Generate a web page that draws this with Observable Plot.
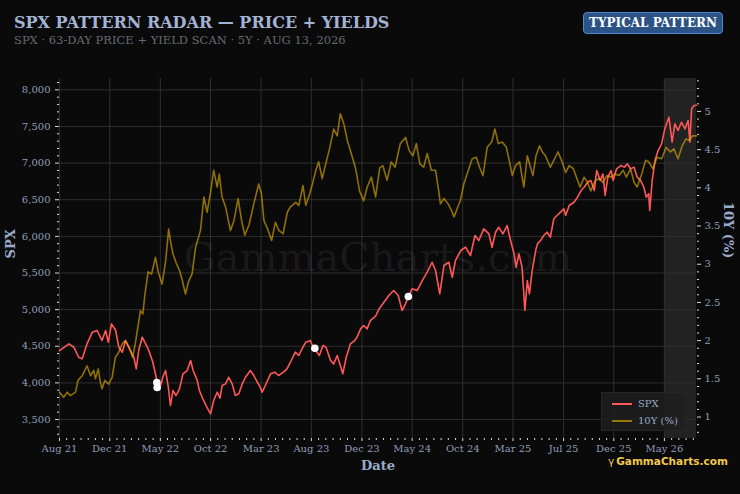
<!DOCTYPE html>
<html><head><meta charset="utf-8">
<script src="https://cdn.jsdelivr.net/npm/d3@7"></script>
<script src="https://cdn.jsdelivr.net/npm/@observablehq/plot@0.6"></script>
<style>
html,body{margin:0;padding:0;background:#0a0a0a;}
#wrap{position:relative;width:740px;height:494px;font-family:"DejaVu Serif",serif;overflow:hidden;}
#title{position:absolute;left:14px;top:13px;font-size:16px;font-weight:bold;color:#a3b3d4;white-space:nowrap;}
#subtitle{position:absolute;left:14px;top:33px;font-size:11.5px;color:#656b74;white-space:nowrap;}
#badge{position:absolute;left:583px;top:12px;width:140px;height:22px;box-sizing:border-box;background:#2b5385;border:1.5px solid #4d88d2;border-radius:4px;color:#fff;font-weight:bold;font-size:12px;display:flex;align-items:center;justify-content:center;white-space:nowrap;}
#chart{position:absolute;left:0;top:60px;}
#legend{position:absolute;left:601px;top:392px;width:85px;height:39px;box-sizing:border-box;background:rgba(30,30,30,0.85);border:1px solid #262626;font-size:10px;color:#9aa8c4;}
#legend .item{position:absolute;left:10px;display:flex;align-items:center;white-space:nowrap;}
#legend .sw{display:inline-block;width:20px;height:2px;margin-right:6px;}
#logo{position:absolute;left:608px;top:455px;font-family:"DejaVu Sans",sans-serif;font-weight:bold;font-size:10.5px;line-height:12px;color:#f2c94c;text-shadow:0 0 2px #000;white-space:nowrap;}
#logo .g{margin-right:2px;font-weight:normal;}
</style></head>
<body>
<div id="wrap">
  <div id="title"></div>
  <div id="subtitle"></div>
  <div id="badge"></div>
  <div id="chart"></div>
  <div id="legend"></div>
  <div id="logo"><span class="g">γ</span><span id="logotext"></span></div>
</div>
<script>
const titleText = "SPX PATTERN RADAR — PRICE + YIELDS";
const subtitleText = "SPX · 63-DAY PRICE + YIELD SCAN · 5Y · AUG 13, 2026";
const badgeText = "TYPICAL PATTERN";
const watermarkText = "GammaCharts.com";
const seriesNames = ["SPX", "10Y (%)"];

const spxTicks = [3500, 4000, 4500, 5000, 5500, 6000, 6500, 7000, 7500, 8000];
const yieldTicks = [1, 1.5, 2, 2.5, 3, 3.5, 4, 4.5, 5];
const xTickDates = ["2021-08-13","2022-01-04","2022-05-29","2022-10-20","2023-03-14","2023-08-05","2023-12-28","2024-05-20","2024-10-12","2025-03-05","2025-07-28","2025-12-19","2026-05-13"];
const xTickLabels = ["Aug 21","Dec 21","May 22","Oct 22","Mar 23","Aug 23","Dec 23","May 24","Oct 24","Mar 25","Jul 25","Dec 25","May 26"];

const xDomain = ["2021-08-13", "2026-08-13"];
const spxDomain = [3241, 8155];
const yieldDomain = [0.719, 5.431];
const scanWindow = ["2026-05-13", "2026-08-13"];

const spxSeries = [
["2021-08-13",4440],["2021-09-09",4533],["2021-09-23",4487],["2021-10-07",4350],["2021-10-17",4328],["2021-10-31",4533],
["2021-11-15",4692],["2021-11-29",4715],["2021-12-13",4578],["2021-12-23",4715],["2021-12-31",4555],["2022-01-09",4806],
["2022-01-21",4715],["2022-01-30",4487],["2022-02-09",4419],["2022-02-18",4578],["2022-02-28",4487],["2022-03-14",4350],
["2022-03-21",4192],["2022-03-28",4442],["2022-04-07",4624],["2022-04-17",4533],["2022-04-26",4442],["2022-05-06",4305],
["2022-05-13",4169],["2022-05-20",4009],["2022-05-30",3964],["2022-06-05",4077],["2022-06-13",4169],["2022-06-21",3941],
["2022-06-27",3691],["2022-07-04",3896],["2022-07-13",3828],["2022-07-23",3919],["2022-08-02",4124],["2022-08-14",4169],
["2022-08-24",4305],["2022-08-31",4169],["2022-09-12",4032],["2022-09-18",3896],["2022-09-28",3782],["2022-10-07",3691],
["2022-10-20",3578],["2022-10-29",3759],["2022-11-08",3873],["2022-11-16",3790],["2022-11-22",3964],["2022-12-02",3987],
["2022-12-11",4077],["2022-12-21",3987],["2022-12-30",3828],["2023-01-09",3851],["2023-01-19",3987],["2023-01-28",4077],
["2023-02-11",4169],["2023-02-21",4101],["2023-03-03",4009],["2023-03-09",3964],["2023-03-17",3873],["2023-03-26",3964],
["2023-04-10",4124],["2023-04-22",4146],["2023-05-03",4101],["2023-05-17",4146],["2023-05-27",4192],["2023-06-06",4282],
["2023-06-20",4419],["2023-06-30",4374],["2023-07-09",4465],["2023-07-20",4555],["2023-08-02",4578],["2023-08-08",4510],
["2023-08-21",4419],["2023-08-28",4374],["2023-09-07",4510],["2023-09-16",4487],["2023-09-29",4305],["2023-10-08",4260],
["2023-10-18",4374],["2023-10-27",4237],["2023-11-03",4124],["2023-11-13",4350],["2023-11-25",4533],["2023-12-07",4578],
["2023-12-14",4624],["2023-12-24",4738],["2024-01-02",4783],["2024-01-12",4738],["2024-01-21",4851],["2024-02-05",4910],
["2024-02-15",5010],["2024-02-29",5101],["2024-03-14",5193],["2024-03-28",5261],["2024-04-10",5193],["2024-04-21",4988],
["2024-05-01",5079],["2024-05-09",5179],["2024-05-20",5284],["2024-06-03",5261],["2024-06-18",5397],["2024-07-02",5511],
["2024-07-16",5647],["2024-07-26",5534],["2024-08-07",5216],["2024-08-19",5602],["2024-09-02",5647],["2024-09-12",5442],
["2024-09-21",5670],["2024-10-06",5807],["2024-10-20",5852],["2024-11-03",5739],["2024-11-16",6012],["2024-11-27",5943],
["2024-12-11",6103],["2024-12-26",6035],["2025-01-04",5852],["2025-01-14",6057],["2025-01-23",6125],["2025-02-04",6035],
["2025-02-16",6148],["2025-02-26",5943],["2025-03-08",5762],["2025-03-14",5579],["2025-03-22",5762],["2025-03-31",5579],
["2025-04-08",4988],["2025-04-15",5397],["2025-04-21",5216],["2025-04-29",5534],["2025-05-09",5807],["2025-05-14",5898],
["2025-05-23",5943],["2025-06-01",6012],["2025-06-11",6057],["2025-06-20",5988],["2025-06-30",6240],["2025-07-14",6308],
["2025-07-29",6376],["2025-08-03",6285],["2025-08-13",6421],["2025-08-27",6466],["2025-09-06",6535],["2025-09-16",6626],
["2025-09-25",6671],["2025-10-05",6739],["2025-10-14",6762],["2025-10-24",6626],["2025-10-31",6899],["2025-11-10",6762],
["2025-11-18",6853],["2025-11-24",6558],["2025-12-02",6808],["2025-12-11",6899],["2025-12-17",6762],["2025-12-27",6922],
["2026-01-08",6967],["2026-01-18",6945],["2026-01-27",6990],["2026-02-05",6922],["2026-02-15",6945],["2026-02-24",6808],
["2026-03-06",6762],["2026-03-15",6671],["2026-03-22",6535],["2026-03-29",6581],["2026-04-01",6353],["2026-04-08",6762],
["2026-04-16",7035],["2026-04-25",7172],["2026-05-05",7263],["2026-05-14",7468],["2026-05-26",7627],["2026-06-04",7285],
["2026-06-12",7536],["2026-06-21",7445],["2026-07-01",7558],["2026-07-11",7468],["2026-07-20",7581],["2026-07-25",7285],
["2026-07-30",7741],["2026-08-06",7786],["2026-08-13",7790]
];

const yieldSeries = [
["2021-08-13",1.325],["2021-08-25",1.26],["2021-09-04",1.325],["2021-09-13",1.28],["2021-09-28",1.325],["2021-10-05",1.48],
["2021-10-17",1.54],["2021-10-31",1.67],["2021-11-10",1.54],["2021-11-19",1.61],["2021-11-24",1.50],["2021-12-02",1.63],
["2021-12-08",1.46],["2021-12-13",1.37],["2021-12-21",1.48],["2022-01-01",1.43],["2022-01-11",1.52],["2022-01-20",1.78],
["2022-01-30",1.85],["2022-02-09",1.96],["2022-02-18",2.00],["2022-02-28",1.91],["2022-03-11",1.78],["2022-03-19",1.98],
["2022-03-27",2.22],["2022-04-02",2.39],["2022-04-09",2.35],["2022-04-15",2.61],["2022-04-24",2.90],["2022-05-04",2.87],
["2022-05-15",3.09],["2022-05-23",2.90],["2022-06-03",2.74],["2022-06-13",3.03],["2022-06-22",3.46],["2022-06-27",3.31],
["2022-07-04",3.14],["2022-07-14",3.01],["2022-07-23",2.92],["2022-07-31",2.79],["2022-08-09",2.61],["2022-08-19",2.79],
["2022-08-28",2.87],["2022-09-07",3.22],["2022-09-21",3.44],["2022-10-01",3.88],["2022-10-10",3.68],["2022-10-20",3.94],
["2022-10-29",4.23],["2022-11-08",4.01],["2022-11-14",4.18],["2022-11-22",3.88],["2022-12-02",3.75],["2022-12-16",3.44],
["2022-12-26",3.57],["2023-01-07",3.86],["2023-01-17",3.57],["2023-01-26",3.38],["2023-02-07",3.51],["2023-02-21",3.79],
["2023-03-07",4.05],["2023-03-15",3.92],["2023-03-22",3.57],["2023-03-31",3.48],["2023-04-13",3.31],["2023-04-24",3.55],
["2023-05-04",3.44],["2023-05-16",3.40],["2023-05-28",3.68],["2023-06-06",3.75],["2023-06-21",3.81],["2023-06-30",3.77],
["2023-07-12",4.03],["2023-07-20",3.77],["2023-07-31",3.92],["2023-08-08",4.05],["2023-08-18",4.23],["2023-08-26",4.34],
["2023-09-05",4.12],["2023-09-15",4.31],["2023-09-26",4.51],["2023-10-08",4.77],["2023-10-18",4.68],["2023-10-27",4.97],
["2023-11-06",4.84],["2023-11-16",4.62],["2023-11-28",4.44],["2023-12-10",4.25],["2023-12-21",3.96],["2024-01-02",3.83],
["2024-01-12",4.01],["2024-01-24",4.14],["2024-02-05",3.88],["2024-02-17",4.26],["2024-02-26",4.29],["2024-03-09",4.10],
["2024-03-21",4.34],["2024-04-01",4.27],["2024-04-16",4.58],["2024-05-01",4.66],["2024-05-11",4.49],["2024-05-22",4.42],
["2024-06-01",4.58],["2024-06-11",4.31],["2024-06-22",4.27],["2024-07-02",4.45],["2024-07-14",4.23],["2024-07-26",4.23],
["2024-08-04",3.96],["2024-08-09",3.79],["2024-08-19",3.86],["2024-08-31",3.79],["2024-09-10",3.70],["2024-09-17",3.62],
["2024-09-26",3.73],["2024-10-05",3.83],["2024-10-15",4.05],["2024-10-28",4.23],["2024-11-08",4.38],["2024-11-20",4.40],
["2024-11-29",4.27],["2024-12-09",4.16],["2024-12-21",4.53],["2025-01-03",4.60],["2025-01-12",4.77],["2025-01-22",4.58],
["2025-02-02",4.60],["2025-02-14",4.53],["2025-02-23",4.34],["2025-03-03",4.16],["2025-03-12",4.29],["2025-03-24",4.34],
["2025-04-05",4.01],["2025-04-15",4.42],["2025-04-24",4.27],["2025-05-01",4.16],["2025-05-10",4.42],["2025-05-20",4.55],
["2025-05-28",4.47],["2025-06-06",4.42],["2025-06-20",4.27],["2025-06-30",4.36],["2025-07-12",4.47],["2025-07-22",4.36],
["2025-08-03",4.20],["2025-08-13",4.29],["2025-08-25",4.25],["2025-09-06",4.10],["2025-09-13",4.01],["2025-09-25",4.14],
["2025-10-05",4.07],["2025-10-14",3.96],["2025-10-27",4.10],["2025-11-07",4.12],["2025-11-18",4.07],["2025-11-29",4.16],
["2025-12-11",4.14],["2025-12-23",4.18],["2026-01-03",4.16],["2026-01-15",4.23],["2026-01-24",4.14],["2026-02-05",4.25],
["2026-02-15",4.07],["2026-02-24",4.01],["2026-03-09",4.18],["2026-03-20",4.36],["2026-03-29",4.34],["2026-04-10",4.25],
["2026-04-22",4.40],["2026-05-05",4.38],["2026-05-18",4.53],["2026-05-30",4.47],["2026-06-09",4.51],["2026-06-21",4.38],
["2026-07-03",4.55],["2026-07-14",4.64],["2026-07-24",4.62],["2026-08-01",4.68],["2026-08-13",4.68]
];

const signalDates = ["2022-05-19", "2022-05-20", "2023-08-15", "2024-05-09"];
const signalValues = [4005, 3937, 4473, 5179];

const colors = {spx: "#ff5757", yld: "#e6b400"};

// ---------- helpers ----------
const parse = s => new Date(s + "T00:00:00Z");
const toSpx = v => spxDomain[0] + (v - yieldDomain[0]) / (yieldDomain[1] - yieldDomain[0]) * (spxDomain[1] - spxDomain[0]);
const fromSpx = s => yieldDomain[0] + (s - spxDomain[0]) / (spxDomain[1] - spxDomain[0]) * (yieldDomain[1] - yieldDomain[0]);

const tickDates = xTickDates.map(parse);
const labelByTime = new Map(tickDates.map((d, i) => [+d, xTickLabels[i]]));
const minorX = [];
const xEnd = parse(xDomain[1]);
for (let i = 0; i < tickDates.length; i++) {
  const a = +tickDates[i];
  const b = i + 1 < tickDates.length ? +tickDates[i + 1] : a + (+tickDates[i] - +tickDates[i - 1]);
  const step = (b - a) / 7;
  for (let k = 1; k < 7; k++) { const t = a + k * step; if (t <= +xEnd) minorX.push(new Date(t)); }
}
const minorSpx = d3.range(3300, 8200, 100).filter(v => v % 500 !== 0);
const minorYield = d3.range(8, 55).map(v => v / 10).filter(v => v % 0.5 !== 0).map(toSpx).filter(v => v >= spxDomain[0] && v <= spxDomain[1]);

const spxData = spxSeries.map(([d, v]) => ({date: parse(d), value: v}));
const yldData = yieldSeries.map(([d, v]) => ({date: parse(d), value: toSpx(v)}));
const dots = signalDates.map((d, i) => ({date: parse(d), value: signalValues[i]}));

const labelColor = "#8f9dba";
const titleColor = "#9aabcc";
const tickColor = "#d8d8d8";

const chart = Plot.plot({
  width: 740,
  height: 434,
  marginTop: 18,
  marginBottom: 56,
  marginLeft: 59,
  marginRight: 44,
  style: {background: "#0a0a0a", color: labelColor, fontFamily: "DejaVu Serif", fontSize: "10px"},
  x: {type: "utc", domain: xDomain.map(parse)},
  y: {domain: spxDomain},
  marks: [
    Plot.rect([scanWindow], {x1: d => parse(d[0]), x2: d => parse(d[1]), fill: "#222222"}),
    Plot.gridY(spxTicks, {stroke: "#2f2f2f", strokeOpacity: 1}),
    Plot.gridX(tickDates, {stroke: "#2f2f2f", strokeOpacity: 1}),
    Plot.text([watermarkText], {frameAnchor: "middle", fontSize: 40, fill: "#ffffff", fillOpacity: 0.075, fontFamily: "DejaVu Serif"}),
    Plot.axisY(spxTicks, {anchor: "left", tickSize: 4, tickPadding: 5, stroke: tickColor, fill: labelColor, tickFormat: d3.format(","), label: null}),
    Plot.axisY(minorSpx, {anchor: "left", tickSize: 2, stroke: tickColor, tickFormat: () => "", label: null}),
    Plot.axisY(yieldTicks.map(toSpx), {anchor: "right", tickSize: 4, tickPadding: 4, stroke: tickColor, fill: labelColor, tickFormat: d => d3.format("~g")(+fromSpx(d).toFixed(2)), label: null}),
    Plot.axisY(minorYield, {anchor: "right", tickSize: 2, stroke: tickColor, tickFormat: () => "", label: null}),
    Plot.axisX(tickDates, {tickSize: 3, tickPadding: 3, stroke: tickColor, fill: labelColor, tickFormat: d => labelByTime.get(+d), label: null}),
    Plot.axisX(minorX, {tickSize: 2, stroke: tickColor, tickFormat: () => "", label: null}),
    Plot.text([seriesNames[0]], {frameAnchor: "left", dx: -49, rotate: -90, fontSize: 13, fontWeight: "bold", fill: titleColor}),
    Plot.text([seriesNames[1]], {frameAnchor: "right", dx: 32, rotate: 90, fontSize: 13, fontWeight: "bold", fill: titleColor}),
    Plot.text(["Date"], {frameAnchor: "bottom", dy: 31, fontSize: 13, fontWeight: "bold", fill: titleColor}),
    Plot.line(spxData, {x: "date", y: "value", stroke: colors.spx, strokeWidth: 1.6}),
    Plot.line(yldData, {x: "date", y: "value", stroke: colors.yld, strokeOpacity: 0.6, strokeWidth: 1.6}),
    Plot.dot(dots, {x: "date", y: "value", r: 3.8, fill: "#ffffff"})
  ]
});
document.getElementById("chart").appendChild(chart);

document.getElementById("title").textContent = titleText;
document.getElementById("subtitle").textContent = subtitleText;
document.getElementById("badge").textContent = badgeText;
document.getElementById("logotext").textContent = watermarkText;

const legend = document.getElementById("legend");
[[seriesNames[0], colors.spx, 1, 5], [seriesNames[1], colors.yld, 0.6, 22]].forEach(([name, c, op, top]) => {
  const it = document.createElement("div");
  it.className = "item";
  it.style.top = top + "px";
  const sw = document.createElement("span");
  sw.className = "sw";
  sw.style.background = c;
  sw.style.opacity = op;
  it.appendChild(sw);
  const t = document.createElement("span");
  t.textContent = name;
  it.appendChild(t);
  legend.appendChild(it);
});
</script>
</body></html>
